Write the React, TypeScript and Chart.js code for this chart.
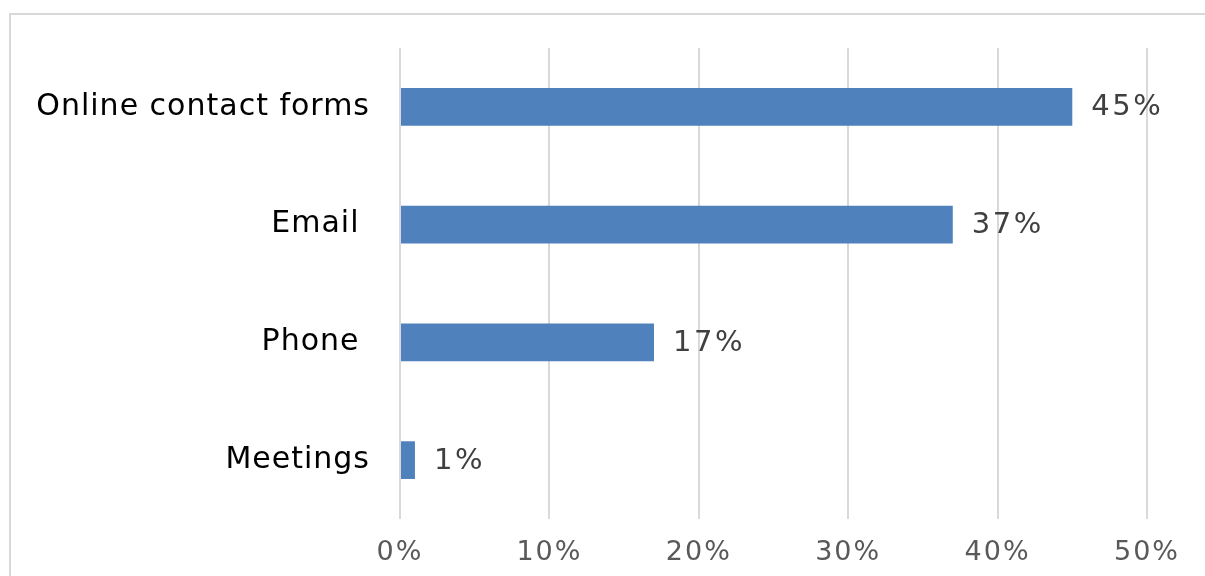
import React, { useEffect, useRef } from "react";
import { Chart, registerables } from "chart.js";

Chart.register(...registerables);

const categories = ["Online contact forms", "Email ", "Phone ", "Meetings"];
const values = [45, 37, 17, 1];
const tickValues = [0, 10, 20, 30, 40, 50];

const FONT = "'DejaVu Sans', Verdana, sans-serif";

export default function App() {
  const ref = useRef<HTMLCanvasElement>(null);

  useEffect(() => {
    if (!ref.current) return;

    const framePlugin = {
      id: "frame",
      beforeDraw(chart: any) {
        const ctx = chart.ctx;
        ctx.save();
        ctx.strokeStyle = "#d9d9d9";
        ctx.lineWidth = 2;
        ctx.beginPath();
        ctx.moveTo(10, 576);
        ctx.lineTo(10, 14);
        ctx.lineTo(1205, 14);
        ctx.stroke();
        ctx.restore();
        ctx.letterSpacing = "1px";
      },
      afterDatasetsDraw(chart: any) {
        const ctx = chart.ctx;
        const meta = chart.getDatasetMeta(0);
        ctx.save();
        ctx.letterSpacing = "2.5px";
        ctx.font = `29px ${FONT}`;
        ctx.fillStyle = "#404040";
        ctx.textAlign = "left";
        ctx.textBaseline = "middle";
        meta.data.forEach((bar: any, i: number) => {
          const p = bar.getProps(["x", "y"], true);
          ctx.fillText(values[i] + "%", p.x + 19, p.y + 1);
        });
        ctx.restore();
        ctx.letterSpacing = "2px";
      },
      afterDraw(chart: any) {
        chart.ctx.letterSpacing = "0px";
      },
    };

    const chart = new Chart(ref.current, {
      type: "bar",
      data: {
        labels: categories,
        datasets: [
          {
            data: values,
            backgroundColor: "#4F81BD",
            borderWidth: 0,
            barPercentage: 0.32,
            categoryPercentage: 1,
          },
        ],
      },
      options: {
        indexAxis: "y",
        animation: false,
        responsive: true,
        maintainAspectRatio: false,
        layout: { padding: { top: 45, right: 58, bottom: 0, left: 0 } },
        plugins: {
          legend: { display: false },
          tooltip: { enabled: false },
        },
        scales: {
          x: {
            type: "linear",
            min: 0,
            max: 50,
            afterBuildTicks: (s: any) => {
              s.ticks = tickValues.map((v) => ({ value: v }));
            },
            afterFit: (s: any) => {
              s.height = 57;
            },
            grid: { color: "#d9d9d9", lineWidth: 2, drawTicks: false },
            border: { display: false },
            ticks: {
              z: 1,
              padding: 18,
              color: "#595959",
              font: { family: FONT, size: 27 },
              callback: (v: any) => v + "%",
            },
          },
          y: {
            afterFit: (s: any) => {
              s.width = 400;
            },
            grid: { display: false, drawTicks: false },
            border: { display: false },
            ticks: {
              padding: 30,
              color: "#000000",
              font: { family: FONT, size: 30 },
            },
          },
        },
      },
      plugins: [framePlugin],
    });

    return () => chart.destroy();
  }, []);

  return (
    <div
      style={{
        position: "absolute",
        left: 0,
        top: 0,
        width: 1205,
        height: 576,
        background: "#ffffff",
      }}
    >
      <canvas ref={ref} />
    </div>
  );
}
